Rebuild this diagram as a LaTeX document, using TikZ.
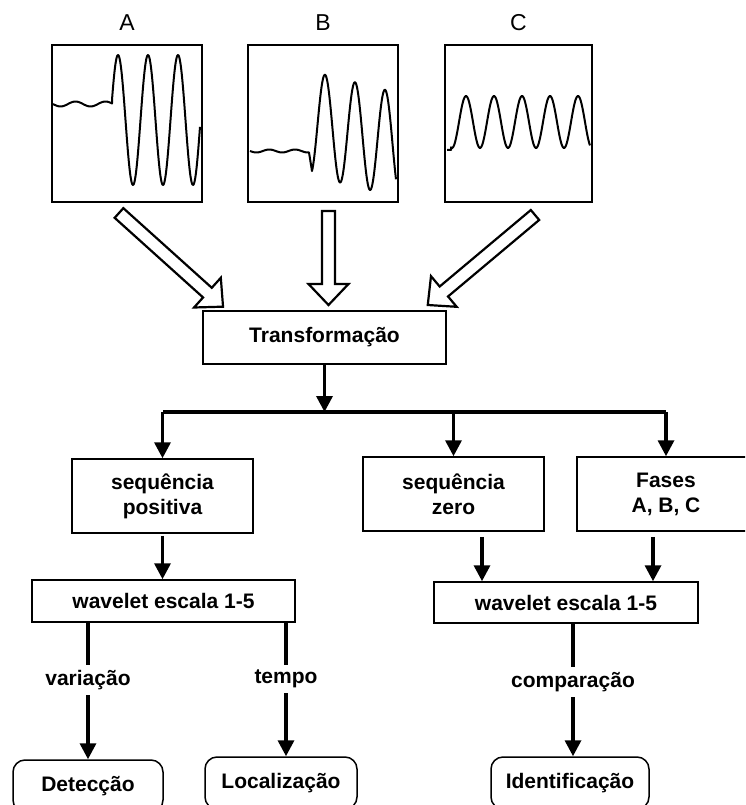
\documentclass[tikz,border=0pt]{standalone}
\usepackage{fontspec}
\setmainfont{Liberation Sans}
\usetikzlibrary{arrows.meta,positioning,calc}

\tikzset{
  hollow arrow/.pic={
    \draw[line width=2.2pt, fill=white]
      (0,-6.5) -- (#1-21,-6.5) -- (#1-21,-20) -- (#1,0) -- (#1-21,20) -- (#1-21,6.5) -- (0,6.5) -- cycle;
  }
}

\begin{document}
\begin{tikzpicture}[x=1pt, y=-1pt,
    font=\fontsize{21}{25}\selectfont\bfseries,
    box/.style={draw, line width=1.5pt, align=center, inner sep=0pt},
    endbox/.style={box, rounded corners=12pt},
    signal/.style={draw, line width=2.8pt, minimum width=150pt, minimum height=157pt, inner sep=0pt},
    wave/.style={line width=2pt, line join=round},
    arr/.style={line width=3.4pt, -{Triangle[length=16pt,width=16pt]}},
    lbl/.style={fill=white, inner xsep=2pt, inner ysep=5pt}
  ]
  \useasboundingbox (0,0) rectangle (745,805);
  \clip (0,0) rectangle (745,805);

  % signals
  \node[signal] (wa) at (127,123.5) {};
  \node[signal] (wb) at (323,123.5) {};
  \node[signal, minimum width=147pt] (wc) at (518.5,123.5) {};
  \foreach \n/\t in {wa/A, wb/B, wc/C}
    \node[font=\fontsize{23}{26}\selectfont] (l\t) at ([yshift=21pt]\n.north) {\t};

  \draw[wave] plot[domain=53:112, samples=40, smooth] (\x,{104+2.5*sin(12*(\x-53))})
    -- plot[domain=112:200, samples=150, smooth] (\x,{120-65*sin(12*(\x-110.5))});
  \draw[wave] plot[domain=250:309, samples=40, smooth] (\x,{151+1.5*sin(14*(\x-250))})
    -- plot[domain=312:396, samples=150, smooth] (\x,{128+0.25*(\x-330)-52*sin(12*(\x-317.5))});
  \draw[wave] (447,150) -- (451,150)
    -- plot[domain=451:590, samples=200, smooth] (\x,{122-26*sin(12.857*(\x-459))});

  % hollow arrows
  \pic[rotate=-42] at (119,213) {hollow arrow=140};
  \pic[rotate=-90] at (328.5,211) {hollow arrow=94};
  \pic[rotate=-140] at (535,215) {hollow arrow=140};

  \node[box, minimum width=243pt, minimum height=53pt] (tr) at (324.5,337.5) {Transformação};

  % bus
  \coordinate (bl) at (163,412);
  \coordinate (br) at (666,412);
  \draw[line width=3.4pt] (bl) -- (br);
  \draw[arr] (tr) -- (tr |- bl);

  \node[box, minimum width=181pt, minimum height=74pt] (sp) at (162.5,496) {sequência\\positiva};
  \node[box, minimum width=181pt, minimum height=74pt] (sz) at (453.5,494) {sequência\\zero};
  \node[box, minimum width=178pt, minimum height=74pt] (fa) at (666,494) {Fases\\A, B, C};
  \foreach \n in {sp,sz,fa}
    \draw[arr] (bl -| \n.north) -- (\n.north);

  \node[box, minimum width=263pt, minimum height=42pt] (wl) at (163.5,601) {wavelet escala 1-5};
  \node[box, minimum width=264pt, minimum height=41pt] (wr) at (566,602.5) {wavelet escala 1-5};

  \draw[arr, shorten <=2pt] (sp) -- (sp |- wl.north);
  \draw[arr, shorten <=5pt] ([xshift=28.5pt]sz.south) -- ([xshift=28.5pt]sz.south |- wr.north);
  \draw[arr, shorten <=5pt] ([xshift=-13pt]fa.south) -- ([xshift=-13pt]fa.south |- wr.north);

  % results
  \node[endbox, minimum width=150pt, minimum height=52pt] (de) at (88,786) {Detecção};
  \node[endbox, minimum width=152pt, minimum height=52pt] (lo) at (281,783) {Localização};
  \node[endbox, minimum width=158pt, minimum height=52pt] (id) at (570,783) {Identificação};

  \draw[arr] (de |- wl.south) -- node[lbl, pos=.42] {variação} (de);
  \draw[arr] ([xshift=5pt]lo.north |- wl.south) -- node[lbl, pos=.42] {tempo} ([xshift=5pt]lo.north);
  \draw[arr] ([xshift=3pt]id.north |- wr.south) -- node[lbl, pos=.44] {comparação} ([xshift=3pt]id.north);
\end{tikzpicture}
\end{document}
